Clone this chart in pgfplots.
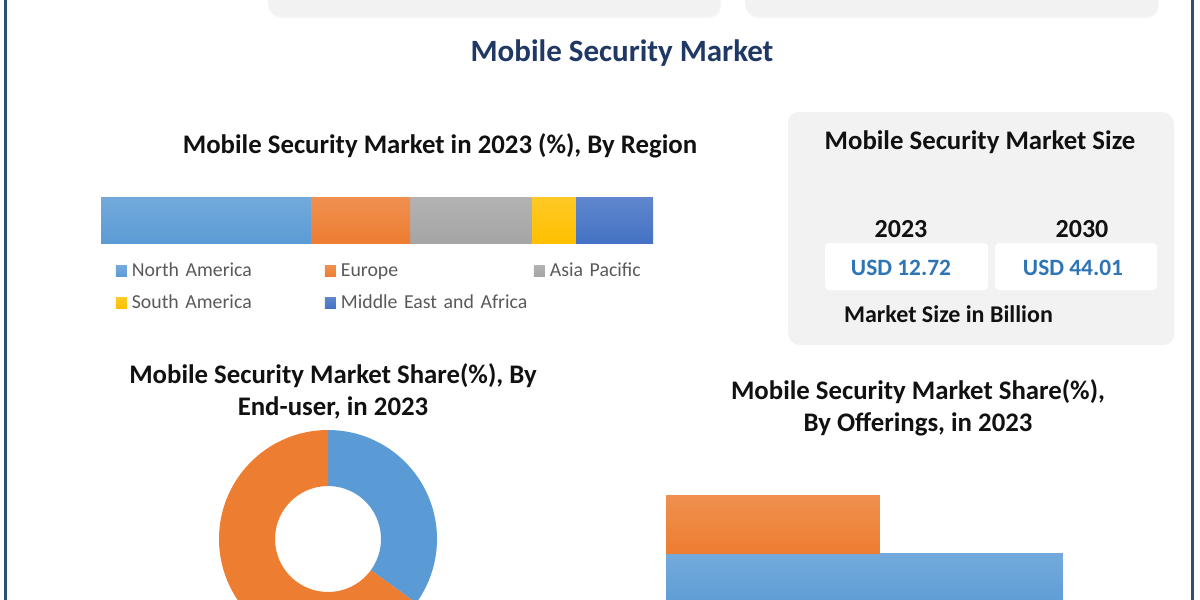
\documentclass[border=0pt]{standalone}
\usepackage{pgfplots}
\pgfplotsset{compat=1.18}
\usepackage{pgfplotstable}
\usepackage{fontspec}
\setmainfont{Carlito}
\usetikzlibrary{shadows}
\definecolor{cNA}{HTML}{5B9BD5}
\definecolor{cEU}{HTML}{ED7D31}
\definecolor{cAP}{HTML}{A5A5A5}
\definecolor{cSA}{HTML}{FFC000}
\definecolor{cMEA}{HTML}{4472C4}
\definecolor{cNavy}{HTML}{1F3864}
\definecolor{cFrame}{HTML}{2F4F75}
\definecolor{cBoxGrey}{HTML}{F2F2F2}
\definecolor{cUSD}{HTML}{2E75B6}
\definecolor{cLeg}{HTML}{595959}
\definecolor{cHead}{HTML}{111111}

\pgfplotstableread{
segment share
Blue 35
Orange 65
}\endusertable
\pgfplotstablegetelem{0}{share}\of\endusertable
\pgfmathsetmacro{\shareA}{\pgfplotsretval}
\pgfmathsetmacro{\angA}{90-3.6*\shareA}
\pgfmathsetmacro{\angB}{90-360}
\newcommand{\headfont}{\fontsize{13.4}{16}\selectfont\bfseries}

\begin{document}%
\begin{tikzpicture}
\path (0,0) rectangle (600pt,-300pt);
\begin{pgfinterruptboundingbox}
\begin{scope}
\clip (0,0) rectangle (600pt,-300pt);
\begin{scope}[x=0.5pt,y=-0.5pt]
  % top partial boxes
  \fill[cBoxGrey, rounded corners=6pt, drop shadow={opacity=0.08, shadow xshift=0.5pt, shadow yshift=-1pt}] (268,-40) rectangle (720,16);
  \fill[cBoxGrey, rounded corners=6pt, drop shadow={opacity=0.08, shadow xshift=0.5pt, shadow yshift=-1pt}] (745,-40) rectangle (1158,16);
  % frame
  \draw[cFrame, line width=1.5pt] (5,-20) rectangle (1192,620);
  % main title
  \node[anchor=base, text=cNavy, font=\fontsize{15.5}{18}\selectfont\bfseries, inner sep=0pt] at (622,61) {Mobile Security Market};
  % region title
  \node[anchor=base, text=cHead, font=\headfont, inner sep=0pt] at (440,153) {Mobile Security Market in 2023 (\%), By Region};
  % market size box
  \fill[cBoxGrey, rounded corners=5pt, drop shadow={opacity=0.10, shadow xshift=0.5pt, shadow yshift=-1pt}] (788,112) rectangle (1173,343);
  \node[anchor=base, text=cHead, font=\headfont, inner sep=0pt] at (980,149) {Mobile Security Market Size};
  \node[anchor=base, text=cHead, font=\fontsize{13}{15}\selectfont\bfseries, inner sep=0pt] at (901,237) {2023};
  \node[anchor=base, text=cHead, font=\fontsize{13}{15}\selectfont\bfseries, inner sep=0pt] at (1082,237) {2030};
  \fill[white, rounded corners=2pt] (825,243) rectangle (988,290);
  \fill[white, rounded corners=2pt] (995,243) rectangle (1157,290);
  \node[anchor=base, text=cUSD, font=\fontsize{11.7}{14}\selectfont\bfseries, inner sep=0pt] at (901,275) {USD 12.72};
  \node[anchor=base, text=cUSD, font=\fontsize{11.7}{14}\selectfont\bfseries, inner sep=0pt] at (1073,275) {USD 44.01};
  \node[anchor=base, text=cHead, font=\fontsize{12}{14}\selectfont\bfseries, inner sep=0pt] at (948.5,322) {Market Size in Billion};
  % end-user title
  \node[anchor=base, text=cHead, font=\headfont, inner sep=0pt] at (333,383) {Mobile Security Market Share(\%), By};
  \node[anchor=base, text=cHead, font=\headfont, inner sep=0pt] at (333,415) {End-user, in 2023};
  % offerings title
  \node[anchor=base, text=cHead, font=\headfont, inner sep=0pt] at (918,399) {Mobile Security Market Share(\%),};
  \node[anchor=base, text=cHead, font=\headfont, inner sep=0pt] at (918,431) {By Offerings, in 2023};
\end{scope}

% stacked region bar
\begin{axis}[
  at={(50.5pt,-121.5pt)}, anchor=south west,
  width=276pt, height=23pt, scale only axis, hide axis,
  xbar stacked, bar width=23pt,
  xmin=0, xmax=100, ymin=-0.5, ymax=0.5,
  legend columns=3,
  legend cell align=left,
  legend image code/.code={\fill[#1] (0pt,-2.75pt) rectangle (5.5pt,2.75pt);},
  legend style={at={(0.027,-0.413)}, anchor=north west, draw=none, fill=none,
    inner sep=0pt, outer sep=0pt,
    font=\fontsize{9.9}{12}\selectfont, text=cLeg,
    nodes={inner sep=0pt, text width=95pt, align=left, text height=7pt, text depth=2pt},
    row sep=7pt,
    /tikz/every odd column/.append style={column sep=2.5pt},
    /tikz/every even column/.append style={column sep=1.5pt}},
]
\addplot[draw=none, top color=cNA!85!white, bottom color=cNA] coordinates {(38,0)};
\addlegendentry{North America}
\addplot[draw=none, top color=cEU!85!white, bottom color=cEU] coordinates {(18,0)};
\addlegendentry{Europe}
\addplot[draw=none, top color=cAP!85!white, bottom color=cAP] coordinates {(22,0)};
\addlegendentry{Asia Pacific}
\addplot[draw=none, top color=cSA!85!white, bottom color=cSA] coordinates {(8,0)};
\addlegendentry{South America}
\addplot[draw=none, top color=cMEA!85!white, bottom color=cMEA] coordinates {(14,0)};
\addlegendentry{Middle East and Africa}
\end{axis}

% donut
\begin{axis}[
  at={(109.5pt,-324pt)}, anchor=south west,
  width=109pt, height=109pt, scale only axis, hide axis,
  xmin=-1, xmax=1, ymin=-1, ymax=1,
]
\fill[cNA] ([shift={(90:54.5pt)}]axis cs:0,0) arc[start angle=90, end angle=\angA, radius=54.5pt]
  -- ([shift={(\angA:26.5pt)}]axis cs:0,0) arc[start angle=\angA, end angle=90, radius=26.5pt] -- cycle;
\fill[cEU] ([shift={(\angA:54.5pt)}]axis cs:0,0) arc[start angle=\angA, end angle=\angB, radius=54.5pt]
  -- ([shift={(\angB:26.5pt)}]axis cs:0,0) arc[start angle=\angB, end angle=\angA, radius=26.5pt] -- cycle;
\end{axis}

% offerings bars
\begin{axis}[
  at={(333pt,-305.5pt)}, anchor=south west,
  width=198.5pt, height=58pt, scale only axis, hide axis,
  xbar, bar width=29pt,
  xmin=0, xmax=65, ymin=-0.5, ymax=1.5,
]
\addplot[draw=none, top color=cNA!85!white, bottom color=cNA, bar shift=0pt] coordinates {(65,0)};
\addplot[draw=none, top color=cEU!85!white, bottom color=cEU, bar shift=0pt] coordinates {(35,1)};
\end{axis}
\end{scope}
\end{pgfinterruptboundingbox}
\end{tikzpicture}%
\end{document}
